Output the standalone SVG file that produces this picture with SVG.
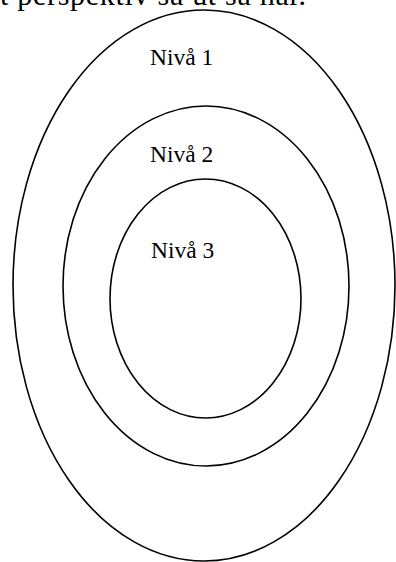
<svg xmlns="http://www.w3.org/2000/svg" width="396" height="562" viewBox="0 0 396 562">
<style>
.ring{fill:none;stroke:#000;stroke-width:1.6}
.lbl{font-family:"Liberation Serif","Times New Roman",serif;font-size:23.5px;fill:#000}
.top{font-family:"Liberation Serif","Times New Roman",serif;font-size:30px;fill:#000}
</style>
<rect width="396" height="562" fill="#fff"/>
<text class="top" x="0" y="5" textLength="306" lengthAdjust="spacing">t perspektiv så ut så här.</text>
<g id="niva1">
<ellipse class="ring" cx="204" cy="285.5" rx="191" ry="275.5"/>
<text class="lbl" x="150" y="65">Nivå 1</text>
</g>
<g id="niva2">
<ellipse class="ring" cx="206" cy="286" rx="143" ry="180"/>
<text class="lbl" x="150" y="162">Nivå 2</text>
</g>
<g id="niva3">
<ellipse class="ring" cx="205.5" cy="298.5" rx="95.5" ry="119.5"/>
<text class="lbl" x="151" y="258">Nivå 3</text>
</g>
<g id="connectors"></g>
</svg>
